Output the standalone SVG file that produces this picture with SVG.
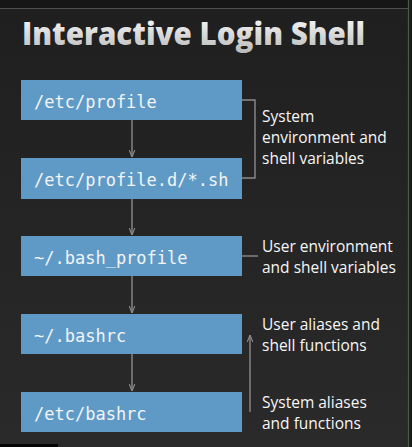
<svg xmlns="http://www.w3.org/2000/svg" width="412" height="447" viewBox="0 0 412 447">
<defs>
<linearGradient id="bg" x1="0" y1="0" x2="0" y2="1">
<stop offset="0" stop-color="#1f1f1f"/>
<stop offset="1" stop-color="#2a2a2a"/>
</linearGradient>
<linearGradient id="tg" x1="0" y1="0" x2="0" y2="1">
<stop offset="0" stop-color="#ffffff"/>
<stop offset="1" stop-color="#b8b8b8"/>
</linearGradient>
<marker id="ah" viewBox="0 0 10 10" refX="10" refY="5" markerWidth="7" markerHeight="7" orient="auto-start-reverse" markerUnits="userSpaceOnUse">
<path d="M0,1 L10,5 L0,9" fill="none" stroke="#8a8a8a" stroke-width="1.6"/>
</marker>
<style>
.box{fill:#5f9ac6;}
.mono{font-family:"DejaVu Sans Mono",monospace;font-size:17px;fill:#f2f4f6;}
.lbl{font-family:"Open Sans","Noto Sans",sans-serif;font-size:15.5px;font-weight:500;fill:#f6f6f6;}
.con{stroke:#8a8a8a;stroke-width:1.4;fill:none;}
</style>
</defs>
<rect width="412" height="447" fill="url(#bg)"/>
<rect width="412" height="8" fill="#161616"/>
<line x1="0" y1="8.5" x2="408" y2="8.5" stroke="#4e4e4e" stroke-width="1.2"/>
<rect x="408" y="0" width="4" height="447" fill="#1a1a1a"/>
<line x1="408.5" y1="0" x2="408.5" y2="447" stroke="#4c5a4c" stroke-width="1.2"/>
<rect x="0" y="444" width="58" height="3" fill="#050505"/>
<text x="22" y="45" font-family="Open Sans, Noto Sans, sans-serif" font-weight="800" font-size="31" textLength="343" lengthAdjust="spacingAndGlyphs" fill="url(#tg)" stroke="#111" stroke-width="0.6" paint-order="stroke">Interactive Login Shell</text>
<g id="connectors">
<line class="con" x1="132" y1="120" x2="132" y2="157" marker-end="url(#ah)"/>
<line class="con" x1="132" y1="199" x2="132" y2="235" marker-end="url(#ah)"/>
<line class="con" x1="132" y1="276" x2="132" y2="313" marker-end="url(#ah)"/>
<line class="con" x1="132" y1="354" x2="132" y2="391" marker-end="url(#ah)"/>
<polyline class="con" points="242,100 255,100 255,178 242,178"/>
<line class="con" x1="242" y1="256" x2="258" y2="256"/>
<line class="con" x1="250" y1="412" x2="250" y2="335" marker-end="url(#ah)"/>
</g>
<g id="n1"><rect class="box" x="21" y="80" width="221" height="40"/><text class="mono" x="34" y="108">/etc/profile</text></g>
<g id="n2"><rect class="box" x="21" y="158" width="221" height="41"/><text class="mono" x="34" y="186">/etc/profile.d/*.sh</text></g>
<g id="n3"><rect class="box" x="21" y="236" width="221" height="40"/><text class="mono" x="34" y="264">~/.bash_profile</text></g>
<g id="n4"><rect class="box" x="21" y="314" width="221" height="40"/><text class="mono" x="34" y="342">~/.bashrc</text></g>
<g id="n5"><rect class="box" x="21" y="392" width="221" height="40"/><text class="mono" x="34" y="420">/etc/bashrc</text></g>
<g id="labels">
<text class="lbl" x="262" y="122">System</text>
<text class="lbl" x="262" y="143">environment and</text>
<text class="lbl" x="262" y="164">shell variables</text>
<text class="lbl" x="262" y="252">User environment</text>
<text class="lbl" x="262" y="273">and shell variables</text>
<text class="lbl" x="262" y="330">User aliases and</text>
<text class="lbl" x="262" y="351">shell functions</text>
<text class="lbl" x="262" y="408">System aliases</text>
<text class="lbl" x="262" y="429">and functions</text>
</g>
</svg>
